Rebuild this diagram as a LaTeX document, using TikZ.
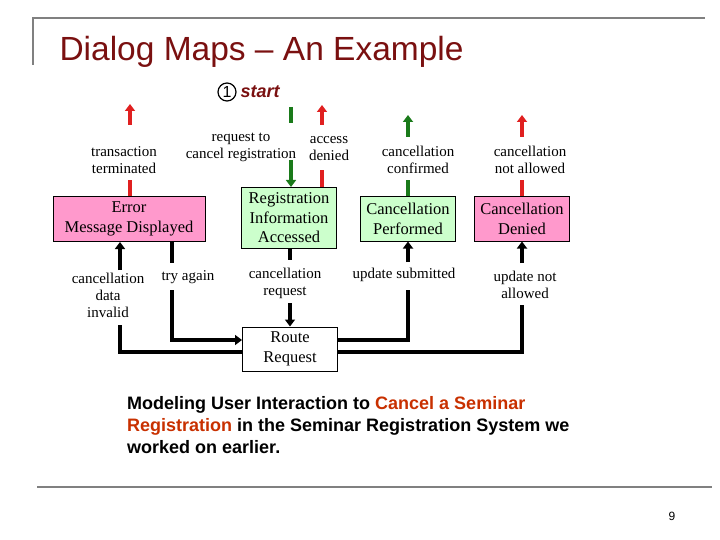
\documentclass[tikz,border=0pt]{standalone}
\usepackage{fontspec}
\setmainfont{Liberation Serif}
\newfontfamily\sansf{Liberation Sans}
\usetikzlibrary{arrows.meta}
\definecolor{dred}{HTML}{7A1010}
\definecolor{lgreen}{HTML}{CCFFCC}
\definecolor{pinkb}{HTML}{FF99CC}
\definecolor{gline}{HTML}{1A7A1A}
\definecolor{rline}{HTML}{E02020}
\definecolor{orng}{HTML}{C83000}
\begin{document}
\begin{tikzpicture}[x=1pt,y=-1pt,
 box/.style={draw=black,line width=1pt,minimum width=95pt,inner sep=1pt,align=center,font=\fontsize{16.5}{19.5}\selectfont},
 lab/.style={align=center,font=\fontsize{15}{17}\selectfont,inner sep=1pt},
 fl/.style={line width=4pt},
 ar/.style={line width=4pt,-{Triangle[length=7pt,width=10pt]}}]
\useasboundingbox (0,0) rectangle (720,540);
\draw[gray,line width=2.5pt] (33,65) -- (33,18) -- (705,18);
\draw[gray,line width=2.5pt] (37,487) -- (712,487);
\node[anchor=west,text=dred,font=\sansf\fontsize{33.5}{36}\selectfont] (title) at (56,52) {Dialog Maps – An Example};
\node[draw,circle,line width=1.2pt,inner sep=1pt,minimum size=18pt,font=\sansf\fontsize{16}{16}\selectfont] (one) at (227,92) {1};
\node[anchor=west,text=dred,font=\sansf\bfseries\itshape\fontsize{18}{18}\selectfont] (st) at (237,92) {start};
% boxes
\node[box,fill=lgreen,minimum height=61pt] (reg) at (289,218) {Registration\\Information\\Accessed};
\node[box,fill=pinkb,minimum width=152pt,minimum height=45pt] (err) at (129,219) {Error\\Message Displayed};
\node[box,fill=lgreen,minimum height=44pt] (cp) at (408,219) {Cancellation\\Performed};
\node[box,fill=pinkb,minimum height=44pt] (cd) at (522,219) {Cancellation\\Denied};
\node[box,fill=white,minimum height=44pt] (rr) at (290,349) {Route\\Request};
% labels
\node[lab] (l1) at (241,147) {request to\\cancel registration};
\node[lab] (l2) at (329,149) {access\\denied};
\node[lab] (l3) at (124,160) {transaction\\terminated};
\node[lab] (l4) at (418,160) {cancellation\\confirmed};
\node[lab] (l5) at (530,160) {cancellation\\not allowed};
\node[lab] (l6) at (285,283) {cancellation\\request};
\node[lab] (l7) at (188,277) {try again};
\node[lab] (l8) at (108,295) {cancellation\\data\\invalid};
\node[lab] (l9) at (404,275) {update submitted};
\node[lab] (l10) at (525,285) {update not\\allowed};
% coordinates
\coordinate (a1) at (291,107); \coordinate (a2) at (291,123); \coordinate (a3) at (291,160);
\draw[fl,gline] (a1) -- (a2);
\draw[ar,gline] (a3) -- (reg.north -| a3);
\coordinate (b1) at (322,170); \coordinate (b2) at (322,125); \coordinate (b3) at (322,105);
\draw[fl,rline] (reg.north -| b1) -- (b1);
\draw[ar,rline] (b2) -- (b3);
\coordinate (c1) at (130,180); \coordinate (c2) at (130,125); \coordinate (c3) at (130,104);
\draw[fl,rline] (err.north -| c1) -- (c1);
\draw[ar,rline] (c2) -- (c3);
\coordinate (d1) at (408,180); \coordinate (d2) at (408,137); \coordinate (d3) at (408,115);
\draw[fl,gline] (cp.north) -- (d1);
\draw[ar,gline] (d2) -- (d3);
\coordinate (e1) at (522,180); \coordinate (e2) at (522,137); \coordinate (e3) at (522,115);
\draw[fl,rline] (cd.north) -- (e1);
\draw[ar,rline] (e2) -- (e3);
% black
\coordinate (f1) at (290,260); \coordinate (f2) at (290,303);
\draw[fl] (reg.south -| f1) -- (f1);
\draw[ar] (f2) -- (rr.north);
\coordinate (g1) at (172,263); \coordinate (g2) at (172,290); \coordinate (g3) at (172,340);
\draw[fl] (err.south -| g1) -- (g1);
\draw[ar] (g2) -- (g3) -- (rr.west |- g3);
\coordinate (h1) at (120,325); \coordinate (h2) at (120,352); \coordinate (h3) at (120,270);
\draw[fl] (rr.west |- h2) -- (h2) -- (h1);
\draw[ar] (h3) -- (err.south -| h3);
\coordinate (i1) at (408,340); \coordinate (i2) at (408,290); \coordinate (i3) at (408,262);
\draw[fl] (rr.east |- i1) -- (i1) -- (i2);
\draw[ar] (i3) -- (cp.south);
\coordinate (j1) at (522,352); \coordinate (j2) at (522,305); \coordinate (j3) at (522,263);
\draw[fl] (rr.east |- j1) -- (j1) -- (j2);
\draw[ar] (j3) -- (cd.south);
% paragraph
\node[anchor=north west,align=left,font=\sansf\bfseries\fontsize{18}{22}\selectfont,inner sep=0pt] (par) at (127,396)
 {Modeling User Interaction to \textcolor{orng}{Cancel a Seminar}\\\textcolor{orng}{Registration} in the Seminar Registration System we\\worked on earlier.};
\node[font=\sansf\fontsize{12}{12}\selectfont] (pg) at (672,516) {9};
\end{tikzpicture}
\end{document}
